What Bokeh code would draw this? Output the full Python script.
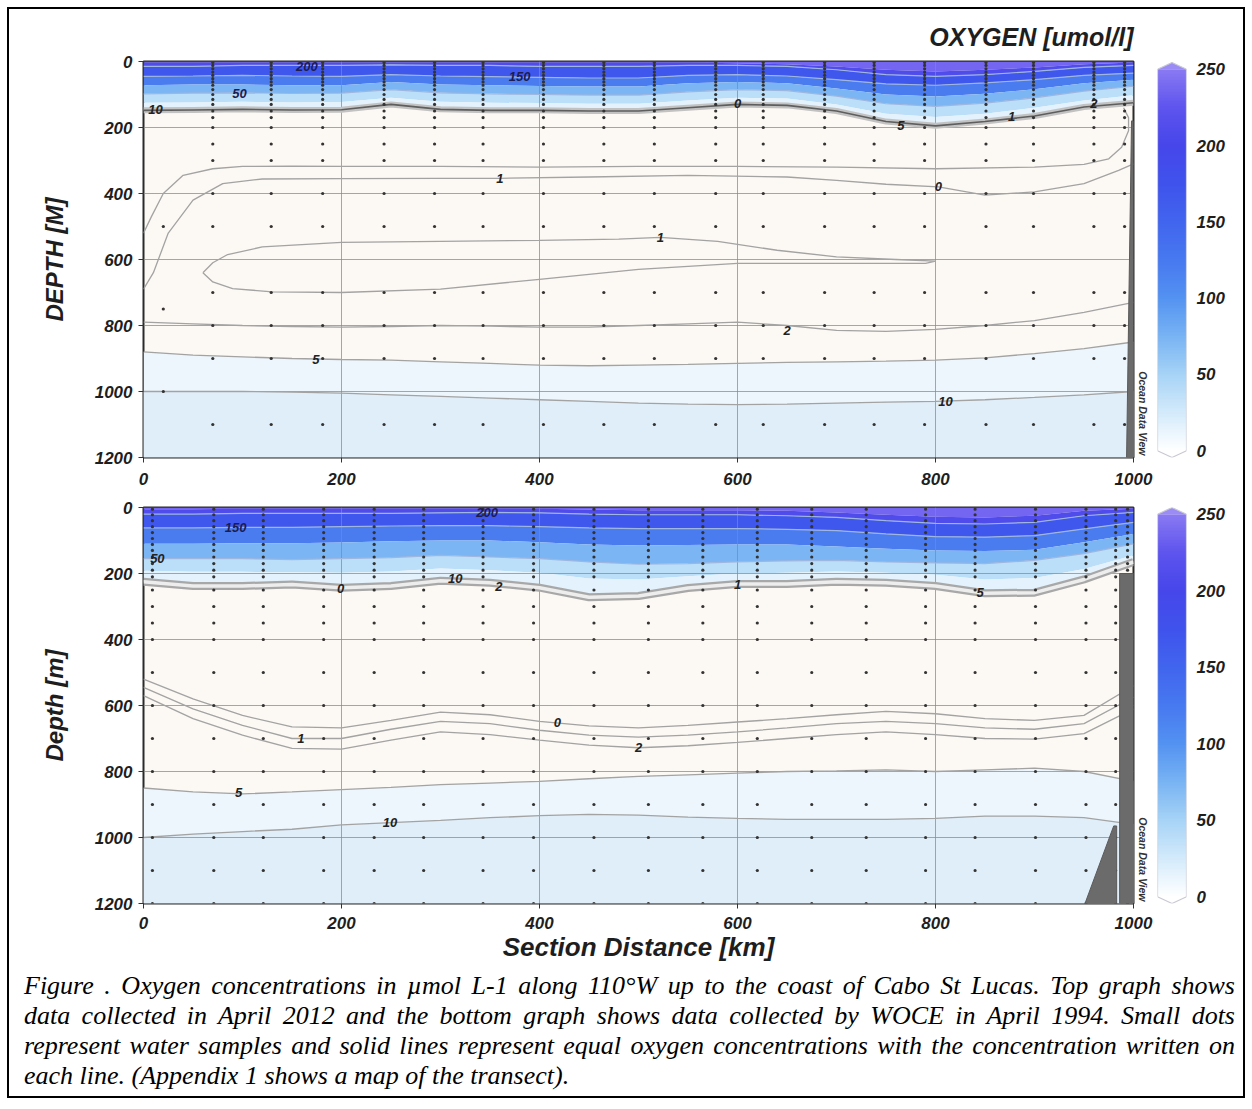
import numpy as np
from bokeh.plotting import figure
from bokeh.models import Range1d, FixedTicker, LinearColorMapper, Div, ColumnDataSource, Title
from bokeh.layouts import row, column
from bokeh.embed import file_html
from bokeh.resources import INLINE
from bokeh.core.properties import value

FONT = "Liberation Sans"

# ---------------------------------------------------------------- data
X_TICKS = [0, 200, 400, 600, 800, 1000]
Y_TICKS = [0, 200, 400, 600, 800, 1000, 1200]
GRID_X = [200, 400, 600, 800]
GRID_D = [200, 400, 600, 800, 1000]
CB_TICKS = [0, 50, 100, 150, 200, 250]
CB_VALUES = [0, 25, 50, 75, 100, 125, 150, 175, 200, 225, 250]
CB_COLORS = ["#ffffff", "#d3eafb", "#a6d3f6", "#78b3f3", "#5392f1", "#4779f0",
             "#4165ee", "#3f53ec", "#4646ea", "#5e54ee", "#8a7af2"]

# common section-distance grid of the read iso-depths (km)
XG = [0, 50, 100, 150, 200, 250, 300, 350, 400, 450, 500, 550, 600, 650, 700, 750, 800, 850, 900, 950, 1000]

# ---- top panel : April 2012 (depth in m of oxygen iso-levels)
T_D225 = [3, 3, 3, 3, 3, 3, 3, 3, 3, 3, 3, 3, 5, 8, 15, 25, 30, 25, 18, 8, 3]
T_D200 = [15, 15, 12, 12, 12, 10, 12, 12, 15, 15, 15, 12, 12, 15, 25, 40, 45, 40, 30, 18, 12]
T_D150 = [45, 44, 42, 44, 45, 40, 44, 46, 48, 50, 50, 42, 40, 44, 55, 68, 72, 65, 55, 42, 35]
T_D100 = [72, 70, 70, 72, 72, 62, 70, 72, 74, 76, 76, 66, 62, 66, 82, 100, 106, 98, 84, 66, 55]
T_D50 = [98, 96, 95, 97, 96, 85, 95, 98, 100, 102, 102, 92, 85, 88, 105, 128, 136, 126, 110, 90, 75]
T_D25 = [125, 124, 122, 124, 123, 110, 122, 125, 126, 128, 128, 118, 110, 112, 130, 158, 168, 158, 140, 118, 102]
T_D10 = [148, 147, 145, 147, 146, 130, 145, 148, 148, 150, 150, 140, 130, 133, 150, 182, 195, 182, 165, 138, 125]
T_C2 = [790, 795, 800, 803, 805, 803, 800, 802, 805, 805, 800, 795, 790, 800, 815, 818, 812, 800, 785, 760, 730]
T_C5 = [880, 890, 895, 900, 903, 905, 910, 915, 920, 922, 920, 918, 915, 912, 910, 908, 905, 898, 885, 870, 850]
T_C10 = [1000, 1000, 1000, 1002, 1005, 1010, 1015, 1020, 1025, 1030, 1035, 1038, 1040, 1038, 1035, 1032, 1030, 1025, 1018, 1010, 1000]
T_C1_X = [0, 8, 20, 40, 70, 100, 150, 200, 300, 400, 500, 600, 700, 800, 900, 950, 975, 988, 995, 995, 990]
T_C1_D = [520, 470, 400, 345, 325, 318, 317, 318, 318, 320, 318, 318, 320, 325, 320, 312, 295, 260, 210, 170, 140]
T_C0_X = [0, 10, 25, 50, 80, 120, 200, 300, 360, 450, 550, 650, 700, 750, 803, 850, 900, 950, 985, 1000]
T_C0_D = [690, 640, 520, 420, 370, 356, 355, 354, 354, 350, 345, 350, 360, 372, 380, 405, 395, 370, 330, 310]
T_LOOP_X = [60, 70, 85, 120, 200, 300, 400, 480, 522, 580, 640, 700, 760, 800, 790, 740, 680, 600, 500, 400, 300, 200, 130, 90, 70, 60]
T_LOOP_D = [640, 610, 585, 562, 548, 545, 542, 538, 533, 545, 572, 592, 600, 605, 612, 612, 612, 612, 630, 660, 690, 700, 698, 688, 668, 640]
T_LAB_X = [165, 380, 97, 12, 600, 765, 877, 960, 360, 803, 522, 650, 174, 810]
T_LAB_D = [15, 46, 96, 146, 128, 193, 168, 128, 354, 380, 533, 815, 902, 1030]
T_LAB_T = ["200", "150", "50", "10", "0", "5", "1", "2", "1", "0", "1", "2", "5", "10"]
T_STATIONS = [70, 129, 181, 243, 294, 343, 404, 465, 516, 578, 626, 688, 738, 789, 851, 899, 960, 991]
T_SURF_D = [3, 12, 22, 32, 42, 52, 62, 72, 85, 100, 115, 130, 150, 170]
T_DEEP_D = [200, 250, 300, 400, 500, 700, 800, 900, 1100]
T_EXTRA_X = [20, 20, 20]
T_EXTRA_D = [500, 750, 1000]
T_BATH_X = [998, 993, 1000, 1000]
T_BATH_D = [180, 1200, 1200, 180]

# ---- bottom panel : WOCE April 1994
B_D225 = [5, 5, 4, 4, 4, 4, 4, 4, 4, 6, 8, 8, 8, 10, 15, 22, 28, 30, 25, 10, 4]
B_D200 = [20, 20, 18, 18, 18, 18, 16, 15, 16, 20, 22, 22, 22, 25, 30, 40, 48, 50, 45, 25, 15]
B_D150 = [62, 62, 60, 60, 58, 56, 55, 55, 58, 62, 64, 64, 64, 66, 70, 80, 88, 90, 85, 65, 45]
B_D100 = [110, 110, 108, 108, 106, 102, 100, 100, 105, 112, 115, 114, 112, 112, 118, 125, 130, 132, 128, 105, 80]
B_D50 = [155, 155, 155, 158, 155, 152, 145, 150, 155, 165, 172, 170, 165, 162, 160, 165, 168, 170, 160, 140, 110]
B_D25 = [192, 195, 195, 196, 198, 194, 185, 190, 198, 215, 218, 208, 200, 198, 194, 198, 204, 218, 214, 186, 145]
B_D10 = [225, 238, 238, 233, 243, 238, 222, 228, 243, 272, 268, 244, 232, 232, 225, 228, 238, 260, 258, 218, 165]
B_C0 = [520, 580, 630, 665, 668, 645, 620, 628, 648, 662, 668, 660, 650, 640, 628, 618, 625, 640, 645, 630, 540]
B_C1 = [545, 610, 660, 700, 700, 672, 648, 655, 675, 690, 696, 690, 680, 668, 655, 648, 655, 668, 672, 655, 575]
B_C2 = [570, 640, 690, 730, 732, 705, 680, 688, 705, 720, 728, 722, 712, 700, 688, 680, 688, 700, 702, 685, 610]
B_C5 = [850, 862, 868, 862, 855, 848, 840, 835, 830, 822, 815, 810, 805, 800, 798, 795, 800, 795, 790, 800, 830]
B_C10 = [1000, 990, 982, 975, 962, 955, 948, 940, 934, 930, 932, 938, 942, 945, 945, 945, 942, 935, 935, 940, 960]
B_LAB_X = [93, 347, 14, 199, 315, 359, 600, 845, 159, 418, 500, 96, 249]
B_LAB_D = [62, 15, 155, 245, 214, 240, 232, 258, 700, 652, 728, 865, 955]
B_LAB_T = ["150", "200", "50", "0", "10", "2", "1", "5", "1", "0", "2", "5", "10"]
B_STATIONS = [9, 71, 121, 182, 233, 283, 343, 394, 455, 510, 565, 620, 675, 730, 790, 840, 901, 952, 982, 994]
B_SURF_D = [5, 22, 40, 58, 76, 94, 112, 130, 150, 170, 190, 210]
B_DEEP_D = [250, 300, 350, 400, 500, 600, 700, 800, 900, 1000, 1100, 1200]
B_BATH1_X = [986, 986, 1000, 1000]
B_BATH1_D = [200, 1200, 1200, 200]
B_BATH2_X = [951, 980, 983, 983]
B_BATH2_D = [1200, 965, 965, 1200]

CAPTION = [
    "Figure . Oxygen concentrations in \u00b5mol L-1 along 110\u00b0W up to the coast of Cabo St Lucas. Top graph shows",
    "data collected in April 2012 and the bottom graph shows data collected by WOCE in April 1994. Small dots",
    "represent water samples and solid lines represent equal oxygen concentrations with the concentration written on",
    "each line. (Appendix 1 shows a map of the transect).",
]

# ---------------------------------------------------------------- styles
SURF_FILLS = ["#7466f0", "#504ceb", "#3f57ec", "#4a7cf0", "#7cb5f3", "#bcdff9", "#e3f2fc"]
DEEP_FILLS = ["#edf6fc", "#e0eefa"]
CREAM = "#fcf8f3"
LINE_GRAY = "#a3a3a3"
LINE_BLUE = "#9fb6de"


def ramp(values, colors, n=256):
    rgb = np.array([[int(c[i:i + 2], 16) for i in (1, 3, 5)] for c in colors], dtype=float)
    t = np.linspace(values[0], values[-1], n)
    out = []
    for v in t:
        r, g, b = (int(round(np.interp(v, values, rgb[:, k]))) for k in range(3))
        out.append("#%02x%02x%02x" % (r, g, b))
    return out


PALETTE = ramp(CB_VALUES, CB_COLORS)


def style_axes(p, ylabel, xstandoff):
    for ax in (p.xaxis[0], p.yaxis[0]):
        ax.axis_line_color = None
        ax.major_tick_line_color = "#333333"
        ax.major_tick_out = 5
        ax.major_tick_in = 0
        ax.minor_tick_line_color = None
        ax.major_label_text_font = FONT
        ax.major_label_text_font_style = "bold italic"
        ax.major_label_text_font_size = "17px"
        ax.major_label_text_color = "#1e1e1e"
    p.xaxis.ticker = FixedTicker(ticks=X_TICKS)
    p.yaxis.ticker = FixedTicker(ticks=Y_TICKS)
    p.xaxis.major_label_standoff = xstandoff
    p.yaxis.major_label_standoff = 6
    p.yaxis.axis_label = ylabel
    p.yaxis.axis_label_text_font = FONT
    p.yaxis.axis_label_text_font_style = "bold italic"
    p.yaxis.axis_label_text_font_size = "24px"
    p.yaxis.axis_label_text_color = "#1e1e1e"
    p.yaxis.axis_label_standoff = 24
    p.xgrid.ticker = FixedTicker(ticks=GRID_X)
    p.ygrid.ticker = FixedTicker(ticks=GRID_D)
    p.grid.grid_line_color = "#8a8a8a"
    p.grid.grid_line_alpha = 0.75
    p.grid.grid_line_width = 1
    p.outline_line_color = "#2a2a2a"
    p.outline_line_width = 2


def section(height, top, bottom, xstandoff, ylabel, surf, deep, lines_blue, band, thin, loops,
            labels, stations, surf_d, deep_d, extra, bath, band_style):
    p = figure(width=1146, height=height, x_range=Range1d(0, 1000), y_range=Range1d(1200, 0),
               output_backend="svg", toolbar_location=None,
               min_border_left=134, min_border_right=22, min_border_top=top, min_border_bottom=bottom,
               background_fill_color=CREAM, border_fill_color="white")
    style_axes(p, ylabel, xstandoff)
    bottom_line = [1200] * len(XG)
    for iso, col in zip(deep, DEEP_FILLS):
        p.varea(x=XG, y1=iso, y2=bottom_line, fill_color=col, level="image")
    upper = [0] * len(XG)
    for iso, col in zip(surf, SURF_FILLS):
        p.varea(x=XG, y1=upper, y2=iso, fill_color=col, level="image")
        upper = iso
    for iso in lines_blue:
        p.line(XG, iso, line_color=LINE_BLUE, line_width=1.2)
    for iso in thin:
        p.line(XG, iso, line_color=LINE_GRAY, line_width=1.3)
    for lx, ld in loops:
        p.line(lx, ld, line_color=LINE_GRAY, line_width=1.3)
    wide_col, wide_w, inner_col, inner_w = band_style
    p.line(XG, band, line_color=wide_col, line_width=wide_w, line_join="round")
    p.line(XG, band, line_color=inner_col, line_width=inner_w, line_join="round")
    xs, ds = [], []
    for s in stations:
        for d in surf_d + deep_d:
            xs.append(s)
            ds.append(d)
    xs += extra[0]
    ds += extra[1]
    p.scatter(xs, ds, size=3.2, color="#333333", line_width=0)
    for bx, bd in bath:
        p.patch(bx, bd, fill_color="#6b6b6b", line_color="#5a5a5a", line_width=1)
    lab_x, lab_d, lab_t = labels
    cols = ["#1c1c50" if d < 120 else "#222222" for d in lab_d]
    src = ColumnDataSource(dict(x=lab_x, y=lab_d, t=lab_t, c=cols))
    p.text(x="x", y="y", text="t", source=src, text_color="c", text_font=value(FONT),
           text_font_style="bold italic", text_font_size="13px",
           text_align="center", text_baseline="middle")
    # small vertical "Ocean Data View" credit at the lower right of the frame
    p.add_layout(Title(text="Ocean Data View", align="right", vertical_align="bottom",
                       text_font=FONT, text_font_style="bold italic", text_font_size="10.5px",
                       text_color="#333333", standoff=6, offset=2), "right")
    return p


def colorbar(height, top, bottom, lo, hi, tip):
    c = figure(width=88, height=height, x_range=Range1d(0, 1), y_range=Range1d(lo, hi),
               output_backend="svg", toolbar_location=None, x_axis_location=None,
               y_axis_location="right", min_border_left=2, min_border_right=57,
               min_border_top=top, min_border_bottom=bottom,
               background_fill_color="white", border_fill_color="white")
    c.grid.visible = False
    c.outline_line_color = None
    mapper = LinearColorMapper(palette=PALETTE, low=CB_VALUES[0], high=CB_VALUES[-1])
    grad = np.linspace(CB_VALUES[0], CB_VALUES[-1], 256).reshape(256, 1)
    c.image(image=[grad], x=0, y=CB_VALUES[0], dw=1, dh=CB_VALUES[-1] - CB_VALUES[0], color_mapper=mapper)
    c.patch([0, 0.5, 1], [CB_VALUES[-1], CB_VALUES[-1] + tip, CB_VALUES[-1]], fill_color="#9a8cf4", line_color=None)
    c.patch([0, 0.5, 1], [CB_VALUES[0], CB_VALUES[0] - tip, CB_VALUES[0]], fill_color="#ffffff", line_color=None)
    c.line([0, 0, 0.5, 1, 1, 0.5, 0],
           [CB_VALUES[0], CB_VALUES[-1], CB_VALUES[-1] + tip, CB_VALUES[-1], CB_VALUES[0], CB_VALUES[0] - tip, CB_VALUES[0]],
           line_color="#c9c9d4", line_width=1.2)
    ax = c.yaxis[0]
    ax.ticker = FixedTicker(ticks=CB_TICKS)
    ax.axis_line_color = None
    ax.major_tick_line_color = None
    ax.minor_tick_line_color = None
    ax.major_label_standoff = 4
    ax.major_label_text_font = FONT
    ax.major_label_text_font_style = "bold italic"
    ax.major_label_text_font_size = "17px"
    ax.major_label_text_color = "#1e1e1e"
    return c


p1 = section(488, 52, 40, 10, "DEPTH [M]",
             [T_D225, T_D200, T_D150, T_D100, T_D50, T_D25, T_D10], [T_C5, T_C10],
             [T_D200, T_D150, T_D50], T_D10, [T_C2, T_C5, T_C10],
             [(T_C1_X, T_C1_D), (T_C0_X, T_C0_D), (T_LOOP_X, T_LOOP_D)],
             (T_LAB_X, T_LAB_D, T_LAB_T), T_STATIONS, T_SURF_D, T_DEEP_D,
             (T_EXTRA_X, T_EXTRA_D), [(T_BATH_X, T_BATH_D)],
             ("#c2c2c2", 6, "#5e5e5e", 1.6))
p1.title.text = "OXYGEN [umol/l]"
p1.title.align = "right"
p1.title.text_font = FONT
p1.title.text_font_style = "bold italic"
p1.title.text_font_size = "25px"
p1.title.text_color = "#1e1e1e"
p1.title.standoff = 21

p2 = section(471, 10, 65, 8, "Depth [m]",
             [B_D225, B_D200, B_D150, B_D100, B_D50, B_D25, B_D10], [B_C5, B_C10],
             [B_D200, B_D150, B_D50], B_D10, [B_C0, B_C1, B_C2, B_C5, B_C10],
             [], (B_LAB_X, B_LAB_D, B_LAB_T), B_STATIONS, B_SURF_D, B_DEEP_D,
             ([], []), [(B_BATH1_X, B_BATH1_D), (B_BATH2_X, B_BATH2_D)],
             ("#a8a8a8", 8, "#ededed", 3.5))
xa = p2.xaxis[0]
xa.axis_label = "Section Distance [km]"
xa.axis_label_text_font = FONT
xa.axis_label_text_font_style = "bold italic"
xa.axis_label_text_font_size = "26px"
xa.axis_label_text_color = "#1e1e1e"
xa.axis_label_standoff = 0

cb1 = colorbar(488, 45, 33, -4.43, 255.06, 4.4)
cb2 = colorbar(471, 3, 58, -4.42, 254.42, 4.4)

lines_html = ""
for i, line in enumerate(CAPTION):
    just = "justify" if i < len(CAPTION) - 1 else "left"
    lines_html += ('<div style="text-align:justify;text-align-last:%s;white-space:nowrap;">%s</div>'
                   % (just, line))
cap = Div(text=('<div style="box-sizing:border-box;width:1234px;padding:3px 8px 0 15px;'
                "font-family:'Liberation Serif',serif;font-style:italic;font-size:26px;"
                'line-height:30px;color:#000;">' + lines_html + '</div>'),
          width=1234, height=128, margin=0, styles={"line-height": "0px", "font-size": "0px"})

# outer frame of the figure page, drawn as thin bars around the content
bar_styles = {"line-height": "0px", "font-size": "0px"}
top_bar = Div(text='<div style="box-sizing:border-box;width:1238px;height:9px;margin-left:7px;'
                   'border-bottom:2px solid #000;"></div>', width=1252, height=9, margin=0,
              styles=bar_styles)
left_bar = Div(text='<div style="box-sizing:border-box;width:9px;height:1087px;'
                    'border-right:2px solid #000;"></div>', width=9, height=1087, margin=0,
               styles=bar_styles)
right_bar = Div(text='<div style="box-sizing:border-box;width:9px;height:1087px;'
                     'border-left:2px solid #000;"></div>', width=9, height=1087, margin=0,
                styles=bar_styles)
bottom_bar = Div(text='<div style="width:1238px;height:2px;margin-left:7px;background:#000;"></div>',
                 width=1252, height=13, margin=0, styles=bar_styles)

inner = column(row(p1, cb1), row(p2, cb2), cap)
layout = column(top_bar, row(left_bar, inner, right_bar), bottom_bar)

open("out.html", "w").write(file_html(layout, INLINE))
